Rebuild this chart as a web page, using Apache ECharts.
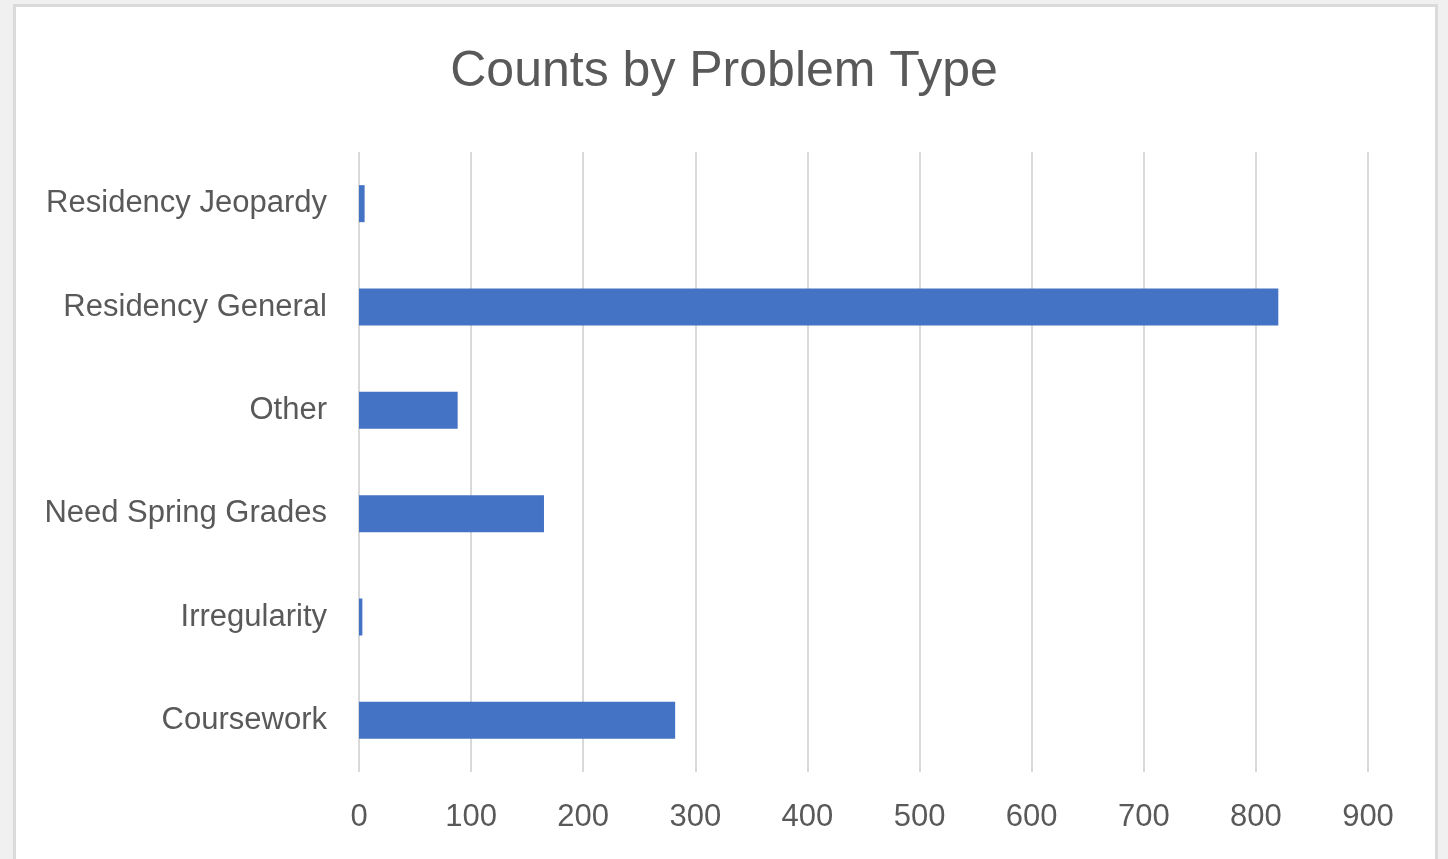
<!DOCTYPE html>
<html>
<head>
<meta charset="utf-8">
<script src="https://cdn.jsdelivr.net/npm/echarts@6/dist/echarts.min.js"></script>
<style>
  html, body { margin: 0; padding: 0; background: #f0f0f0; width: 1448px; height: 859px; overflow: hidden; }
  #frame { position: absolute; left: 13px; top: 4px; width: 1419px; height: 880px; background: #ffffff; border: 3px solid #dadada; }
  #chart { position: absolute; left: 0; top: 0; width: 1448px; height: 859px; }
</style>
</head>
<body>
<div id="frame"></div>
<div id="chart"></div>
<script>
const categories = ['Residency Jeopardy', 'Residency General', 'Other', 'Need Spring Grades', 'Irregularity', 'Coursework'];
const counts = [5, 820, 88, 165, 3, 282];
const titleText = 'Counts by Problem Type';

const chart = echarts.init(document.getElementById('chart'), null, { renderer: 'canvas' });
const font = '"Liberation Sans", Arial, sans-serif';
chart.setOption({
  backgroundColor: 'transparent',
  animation: false,
  title: {
    text: titleText,
    left: 'center',
    top: 42,
    textStyle: { fontFamily: font, fontSize: 50, fontWeight: 'normal', color: '#595959' }
  },
  grid: { left: 359, right: 80, top: 152, bottom: 87, containLabel: false },
  xAxis: {
    type: 'value',
    min: 0, max: 900, interval: 100,
    axisLine: { show: false },
    axisTick: { show: false },
    axisLabel: { fontFamily: font, fontSize: 31, color: '#595959', margin: 30 },
    splitLine: { show: true, lineStyle: { color: '#d9d9d9', width: 2 } }
  },
  yAxis: {
    type: 'category',
    data: categories,
    inverse: true,
    axisLine: { show: false },
    axisTick: { show: false },
    axisLabel: { fontFamily: font, fontSize: 31, color: '#595959', margin: 32 },
    splitLine: { show: false }
  },
  series: [{
    type: 'bar',
    data: counts,
    barWidth: 37,
    itemStyle: { color: '#4472C4' }
  }]
});
</script>
</body>
</html>
